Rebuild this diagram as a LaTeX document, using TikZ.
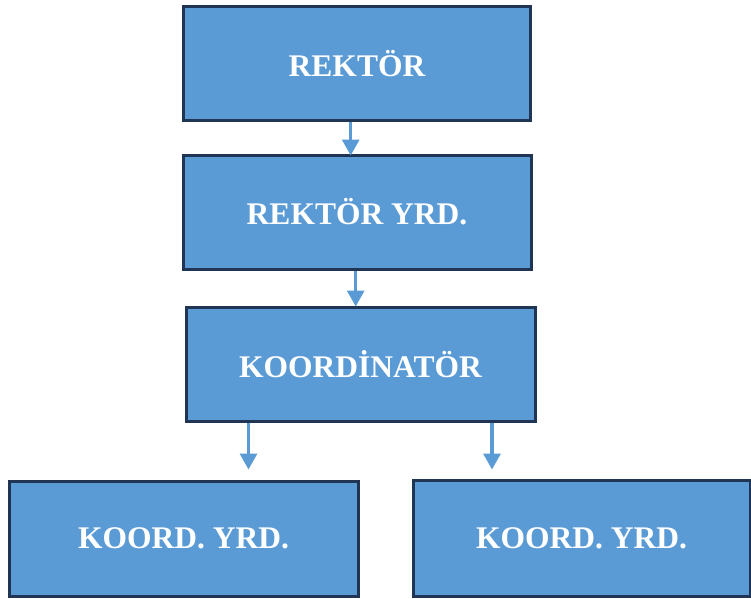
\documentclass[tikz,border=0pt]{standalone}
\usepackage{fontspec}
\setmainfont{Liberation Serif}
\usetikzlibrary{arrows.meta}
\definecolor{boxfill}{RGB}{91,155,213}
\definecolor{boxline}{RGB}{32,52,84}
\definecolor{arrowcol}{RGB}{91,155,213}
\tikzset{
  orgbox/.style={draw=boxline, line width=3pt, fill=boxfill, text=white,
    font=\fontsize{31.5}{36}\selectfont\bfseries, inner sep=0pt, anchor=center},
  arr/.style={draw=arrowcol, line width=3.2pt, -{Triangle[width=17pt,length=16pt]}}
}
\begin{document}
\begin{tikzpicture}[x=1pt,y=-1pt]
\useasboundingbox (0,0) rectangle (751,598);
\node[orgbox, minimum width=347pt, minimum height=114pt] (r) at (357,63.5) {REKTÖR};
\node[orgbox, minimum width=348pt, minimum height=114pt] (ry) at (357,212) {REKTÖR YRD.};
\node[orgbox, minimum width=349pt, minimum height=114pt] (k) at (360.5,364) {KOORDİNATÖR};
\node[orgbox, minimum width=349pt, minimum height=115pt] (ky1) at (183.5,538.5) {KOORD. YRD.};
\node[orgbox, minimum width=337pt, minimum height=116pt] (ky2) at (581.5,538) {KOORD. YRD.};
\draw[arr] ([xshift=-6.3pt]r.south) -- ([xshift=-6.3pt,yshift=-2pt]ry.north);
\draw[arr] ([xshift=-1.3pt]ry.south) -- ([xshift=-1.3pt,yshift=-1pt]ry.south |- k.north);
\coordinate (t1) at ([xshift=-112pt]k.south);
\coordinate (t2) at ([xshift=131.5pt]k.south);
\draw[arr] (t1) -- ([yshift=10pt]t1 |- ky1.north);
\draw[arr] (t2) -- ([yshift=9pt]t2 |- ky2.north);
\end{tikzpicture}
\end{document}
